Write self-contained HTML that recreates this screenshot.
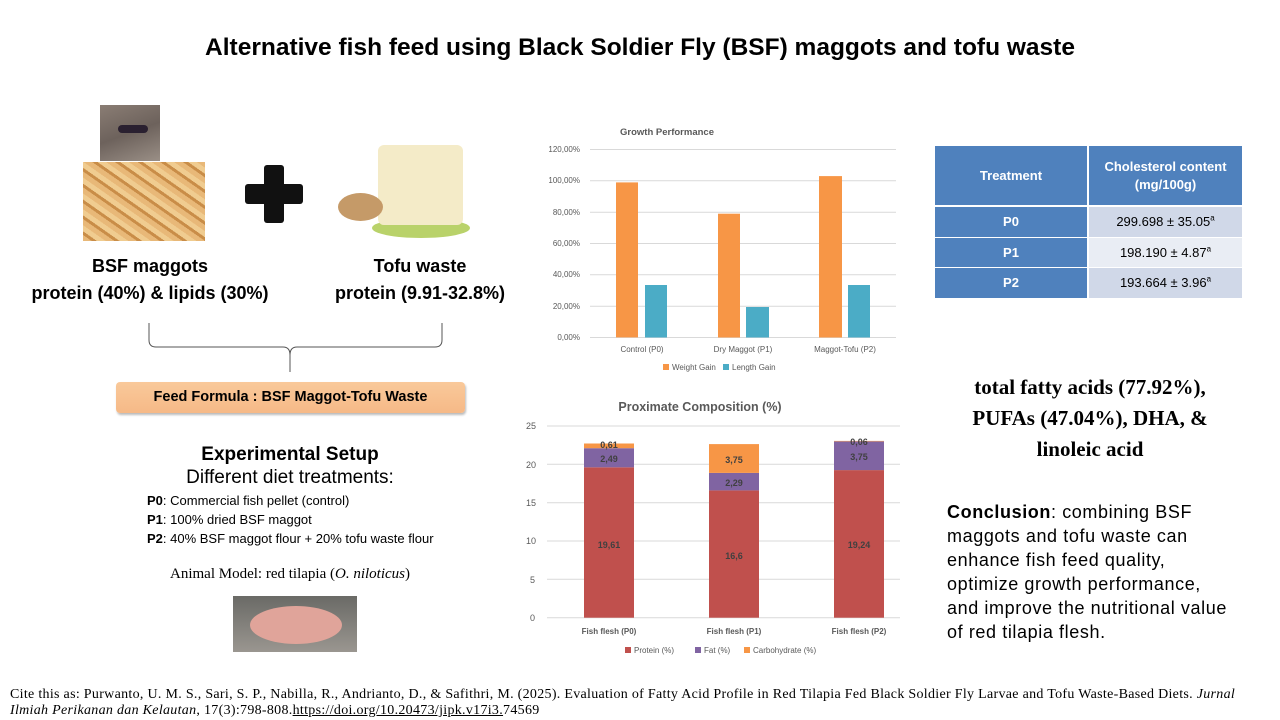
<!DOCTYPE html>
<html><head><meta charset="utf-8"><style>
*{margin:0;padding:0;box-sizing:border-box}
body{width:1280px;height:720px;background:#fff;position:relative;overflow:hidden;font-family:"Liberation Sans","DejaVu Sans",sans-serif;color:#000}
.a{position:absolute;white-space:nowrap}
.c{text-align:center}
sup{font-size:8px;vertical-align:super;line-height:0}
</style></head><body>
<div class="a c" style="left:0;width:1280px;top:34px;font-size:24.5px;font-weight:bold">Alternative fish feed using Black Soldier Fly (BSF) maggots and tofu waste</div>

<div class="a" style="left:100px;top:105px;width:60px;height:56px;background:linear-gradient(160deg,#8a7d74,#6d625c 50%,#9a8f86)"></div>
<div class="a" style="left:118px;top:125px;width:30px;height:8px;background:#2a2030;border-radius:4px"></div>
<div class="a" style="left:83px;top:162px;width:122px;height:79px;background:repeating-linear-gradient(35deg,#e8b878 0 5px,#c98d48 5px 8px,#f0cc90 8px 13px)"></div>
<div class="a" style="left:264px;top:165px;width:20px;height:58px;background:#111;border-radius:3px"></div>
<div class="a" style="left:245px;top:184px;width:58px;height:20px;background:#111;border-radius:3px"></div>
<div class="a" style="left:372px;top:218px;width:98px;height:20px;background:#b9d26a;border-radius:50%"></div>
<div class="a" style="left:378px;top:145px;width:85px;height:80px;background:#f4ebc8;border-radius:6px"></div>
<div class="a" style="left:338px;top:193px;width:45px;height:28px;background:#c59a68;border-radius:50%"></div>

<div class="a c" style="left:40px;width:220px;top:256px;font-size:18px;font-weight:bold">BSF maggots</div>
<div class="a c" style="left:20px;width:260px;top:283px;font-size:18px;font-weight:bold">protein (40%) &amp; lipids (30%)</div>
<div class="a c" style="left:320px;width:200px;top:256px;font-size:18px;font-weight:bold">Tofu waste</div>
<div class="a c" style="left:320px;width:200px;top:283px;font-size:18px;font-weight:bold">protein (9.91-32.8%)</div>

<svg class="a" style="left:0;top:0" width="520" height="420"><path d="M149,323 V340 Q149,347 156,347 H283 Q290,347 290,355 V372 M290,355 Q290,347 297,347 H435 Q442,347 442,340 V323" fill="none" stroke="#555" stroke-width="1"/></svg>
<div class="a c" style="left:116px;top:382px;width:349px;height:31px;background:linear-gradient(#f9c99a,#f6b987);border-radius:4px;box-shadow:1px 2px 2px #bbb;font-size:14.5px;font-weight:bold;line-height:31px">Feed Formula : BSF Maggot-Tofu Waste</div>

<div class="a c" style="left:130px;width:320px;top:444px;font-size:19px;font-weight:bold">Experimental Setup</div>
<div class="a c" style="left:130px;width:320px;top:467px;font-size:19px">Different diet treatments:</div>
<div class="a" style="left:147px;top:491px;font-size:13px;line-height:19px"><b>P0</b>: Commercial fish pellet (control)<br><b>P1</b>: 100% dried BSF maggot<br><b>P2</b>: 40% BSF maggot flour + 20% tofu waste flour</div>
<div class="a c" style="left:150px;width:280px;top:566px;font-size:15px;font-family:'Liberation Serif',serif">Animal Model: red tilapia (<i>O. niloticus</i>)</div>
<div class="a" style="left:233px;top:596px;width:124px;height:56px;background:linear-gradient(#6a6a66,#9a9690)"></div>
<div class="a" style="left:250px;top:606px;width:92px;height:38px;background:#e0a49a;border-radius:50%"></div>

<svg class="a" style="left:530px;top:115px" width="380" height="270" font-family="Liberation Sans, sans-serif">
<text x="137" y="20" font-size="9.5" font-weight="bold" fill="#595959" text-anchor="middle">Growth Performance</text>
<g stroke="#d9d9d9" stroke-width="1">
<line x1="60" x2="366" y1="34.5" y2="34.5"/><line x1="60" x2="366" y1="65.8" y2="65.8"/><line x1="60" x2="366" y1="97.2" y2="97.2"/><line x1="60" x2="366" y1="128.5" y2="128.5"/><line x1="60" x2="366" y1="159.8" y2="159.8"/><line x1="60" x2="366" y1="191.2" y2="191.2"/><line x1="60" x2="366" y1="222.5" y2="222.5"/></g>
<g font-size="8" fill="#595959" text-anchor="end"><text x="50" y="37">120,00%</text><text x="50" y="68">100,00%</text><text x="50" y="100">80,00%</text><text x="50" y="131">60,00%</text><text x="50" y="162">40,00%</text><text x="50" y="194">20,00%</text><text x="50" y="225">0,00%</text></g>
<g fill="#f79646"><rect x="86" y="67.4" width="22" height="155"/><rect x="188" y="98.7" width="22" height="123.8"/><rect x="289" y="61.1" width="23" height="161.4"/></g>
<g fill="#4bacc6"><rect x="115" y="170" width="22" height="52.5"/><rect x="216" y="192" width="23" height="30.5"/><rect x="318" y="170" width="22" height="52.5"/></g>
<g font-size="8" fill="#595959" text-anchor="middle"><text x="112" y="237">Control (P0)</text><text x="213" y="237">Dry Maggot (P1)</text><text x="315" y="237">Maggot-Tofu (P2)</text></g>
<rect x="133" y="249" width="6" height="6" fill="#f79646"/><text x="142" y="255" font-size="8" fill="#595959">Weight Gain</text>
<rect x="193" y="249" width="6" height="6" fill="#4bacc6"/><text x="202" y="255" font-size="8" fill="#595959">Length Gain</text>
</svg>

<svg class="a" style="left:520px;top:390px" width="390" height="270" font-family="Liberation Sans, sans-serif">
<text x="180" y="21" font-size="12.5" font-weight="bold" fill="#595959" text-anchor="middle">Proximate Composition (%)</text>
<g stroke="#d9d9d9"><line x1="27" x2="380" y1="36" y2="36"/><line x1="27" x2="380" y1="74.3" y2="74.3"/><line x1="27" x2="380" y1="112.7" y2="112.7"/><line x1="27" x2="380" y1="151" y2="151"/><line x1="27" x2="380" y1="189.3" y2="189.3"/><line x1="27" x2="380" y1="227.7" y2="227.7"/></g>
<g font-size="9" fill="#595959"><text x="6" y="39">25</text><text x="6" y="78">20</text><text x="6" y="116">15</text><text x="6" y="154">10</text><text x="10" y="193">5</text><text x="10" y="231">0</text></g>
<rect x="64" y="77.3" width="50" height="150.4" fill="#c0504d"/><rect x="64" y="58.2" width="50" height="19.1" fill="#8064a2"/><rect x="64" y="53.5" width="50" height="4.7" fill="#f79646"/>
<rect x="189" y="100.4" width="50" height="127.3" fill="#c0504d"/><rect x="189" y="82.9" width="50" height="17.5" fill="#8064a2"/><rect x="189" y="54.1" width="50" height="28.8" fill="#f79646"/>
<rect x="314" y="80.1" width="50" height="147.6" fill="#c0504d"/><rect x="314" y="51.4" width="50" height="28.7" fill="#8064a2"/><rect x="314" y="50.9" width="50" height="0.5" fill="#f79646"/>
<g font-size="9" font-weight="bold" fill="#404040" text-anchor="middle">
<text x="89" y="158">19,61</text><text x="89" y="72">2,49</text><text x="89" y="58">0,61</text>
<text x="214" y="169">16,6</text><text x="214" y="96">2,29</text><text x="214" y="73">3,75</text>
<text x="339" y="158">19,24</text><text x="339" y="70">3,75</text><text x="339" y="55">0,06</text></g>
<g font-size="8" font-weight="bold" fill="#595959" text-anchor="middle"><text x="89" y="244">Fish flesh (P0)</text><text x="214" y="244">Fish flesh (P1)</text><text x="339" y="244">Fish flesh (P2)</text></g>
<g font-size="8" fill="#595959"><rect x="105" y="257" width="6" height="6" fill="#c0504d"/><text x="114" y="263">Protein (%)</text>
<rect x="175" y="257" width="6" height="6" fill="#8064a2"/><text x="184" y="263">Fat (%)</text>
<rect x="224" y="257" width="6" height="6" fill="#f79646"/><text x="233" y="263">Carbohydrate (%)</text></g>
</svg>

<div class="a" style="left:935px;top:146px;width:307px;height:152px;font-size:13px">
<div class="a" style="left:0;top:0;width:152px;height:59px;background:#4f81bd;color:#fff;font-weight:bold;text-align:center;line-height:59px">Treatment</div>
<div class="a" style="left:154px;top:0;width:153px;height:59px;background:#4f81bd;color:#fff;font-weight:bold;text-align:center;padding-top:12px;line-height:18px">Cholesterol content<br>(mg/100g)</div>
<div class="a" style="left:0;top:61px;width:152px;height:30px;background:#4f81bd;color:#fff;font-weight:bold;text-align:center;line-height:30px">P0</div>
<div class="a" style="left:154px;top:61px;width:153px;height:30px;background:#d0d8e8;text-align:center;line-height:30px">299.698 ± 35.05<sup>a</sup></div>
<div class="a" style="left:0;top:92px;width:152px;height:29px;background:#4f81bd;color:#fff;font-weight:bold;text-align:center;line-height:29px">P1</div>
<div class="a" style="left:154px;top:92px;width:153px;height:29px;background:#e9edf4;text-align:center;line-height:29px">198.190 ± 4.87<sup>a</sup></div>
<div class="a" style="left:0;top:122px;width:152px;height:30px;background:#4f81bd;color:#fff;font-weight:bold;text-align:center;line-height:30px">P2</div>
<div class="a" style="left:154px;top:122px;width:153px;height:30px;background:#d0d8e8;text-align:center;line-height:30px">193.664 ± 3.96<sup>a</sup></div>
</div>

<div class="a c" style="left:930px;width:320px;top:372px;font-size:21px;font-weight:bold;font-family:'Liberation Serif',serif;line-height:31px">total fatty acids (77.92%),<br>PUFAs (47.04%), DHA, &amp;<br>linoleic acid</div>

<div class="a" style="left:947px;top:500px;font-size:18px;letter-spacing:0.6px;line-height:24px"><b>Conclusion</b>: combining BSF<br>maggots and tofu waste can<br>enhance fish feed quality,<br>optimize growth performance,<br>and improve the nutritional value<br>of red tilapia flesh.</div>

<div class="a" style="left:10px;top:687px;font-size:14px;letter-spacing:0.3px;font-family:'Liberation Serif',serif;line-height:16px">Cite this as: Purwanto, U. M. S., Sari, S. P., Nabilla, R., Andrianto, D., &amp; Safithri, M. (2025). Evaluation of Fatty Acid Profile in Red Tilapia Fed Black Soldier Fly Larvae and Tofu Waste-Based Diets. <i>Jurnal</i><br><i>Ilmiah Perikanan dan Kelautan</i>, 17(3):798-808.<span style="text-decoration:underline">https://doi.org/10.20473/jipk.v17i3.</span>74569</div>
</body></html>
